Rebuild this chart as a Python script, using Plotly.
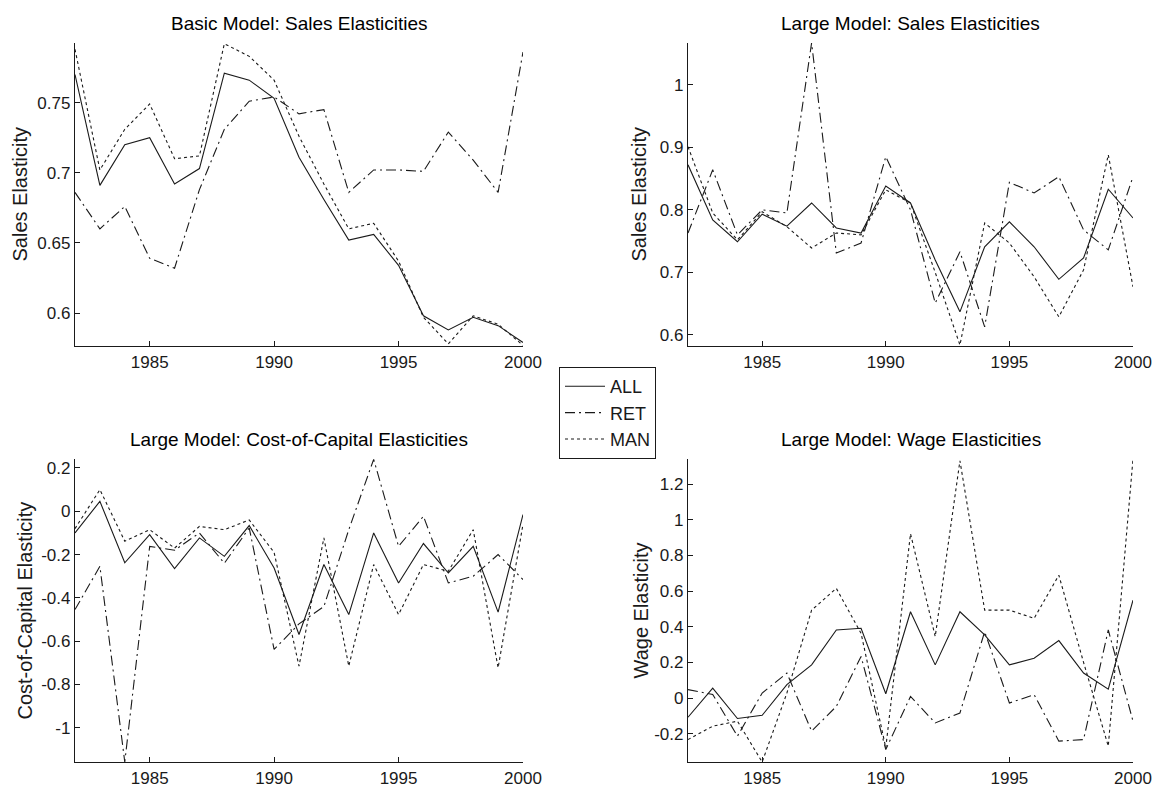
import plotly.graph_objects as go

years = list(range(1982, 2001))

basic_all = [0.770, 0.691, 0.720, 0.725, 0.692, 0.703, 0.771, 0.766, 0.753, 0.711,
             0.681, 0.652, 0.656, 0.634, 0.598, 0.588, 0.597, 0.591, 0.579]
basic_ret = [0.686, 0.660, 0.676, 0.639, 0.632, 0.688, 0.731, 0.751, 0.754, 0.742,
             0.745, 0.686, 0.702, 0.702, 0.701, 0.729, 0.709, 0.686, 0.786]
basic_man = [0.788, 0.702, 0.731, 0.749, 0.710, 0.712, 0.792, 0.783, 0.766, 0.726,
             0.692, 0.660, 0.664, 0.637, 0.597, 0.578, 0.598, 0.592, 0.577]

large_all = [0.872, 0.784, 0.749, 0.793, 0.774, 0.811, 0.771, 0.763, 0.838, 0.811,
             0.720, 0.637, 0.741, 0.781, 0.741, 0.689, 0.723, 0.833, 0.787]
large_ret = [0.763, 0.864, 0.760, 0.800, 0.795, 1.067, 0.731, 0.747, 0.885, 0.800,
             0.651, 0.733, 0.613, 0.844, 0.827, 0.853, 0.768, 0.736, 0.853]
large_man = [0.901, 0.795, 0.752, 0.797, 0.773, 0.739, 0.763, 0.760, 0.832, 0.811,
             0.700, 0.584, 0.779, 0.747, 0.693, 0.629, 0.704, 0.888, 0.677]

coc_all = [-0.100, 0.046, -0.238, -0.108, -0.265, -0.123, -0.208, -0.066, -0.262, -0.569,
           -0.246, -0.477, -0.100, -0.331, -0.149, -0.285, -0.162, -0.466, -0.015]
coc_ret = [-0.454, -0.254, -1.158, -0.162, -0.180, -0.100, -0.240, -0.077, -0.638, -0.520,
           -0.440, -0.085, 0.240, -0.162, -0.023, -0.331, -0.300, -0.200, -0.315]
coc_man = [-0.080, 0.100, -0.138, -0.085, -0.170, -0.070, -0.085, -0.040, -0.190, -0.715,
           -0.123, -0.715, -0.246, -0.477, -0.246, -0.277, -0.085, -0.723, -0.060]

wage_all = [-0.108, 0.056, -0.115, -0.097, 0.075, 0.186, 0.382, 0.391, 0.024, 0.484,
            0.186, 0.484, 0.354, 0.186, 0.223, 0.322, 0.140, 0.050, 0.549]
wage_ret = [0.047, 0.020, -0.214, 0.028, 0.140, -0.186, -0.047, 0.233, -0.289, 0.009,
            -0.140, -0.084, 0.372, -0.028, 0.019, -0.242, -0.233, 0.382, -0.130]
wage_man = [-0.233, -0.158, -0.130, -0.359, 0.028, 0.493, 0.615, 0.363, -0.279, 0.922,
            0.345, 1.331, 0.493, 0.493, 0.447, 0.689, 0.200, -0.270, 1.341]

series_names = ["ALL", "RET", "MAN"]
panel_titles = ["Basic Model: Sales Elasticities", "Large Model: Sales Elasticities",
                "Large Model: Cost-of-Capital Elasticities", "Large Model: Wage Elasticities"]
y_titles = ["Sales Elasticity", "Sales Elasticity", "Cost-of-Capital Elasticity", "Wage Elasticity"]
x_ticks = [1985, 1990, 1995, 2000]
y_ticks = [[0.6, 0.65, 0.7, 0.75],
           [0.6, 0.7, 0.8, 0.9, 1.0],
           [-1.0, -0.8, -0.6, -0.4, -0.2, 0.0, 0.2],
           [-0.2, 0.0, 0.2, 0.4, 0.6, 0.8, 1.0, 1.2]]
y_tick_text = [["0.6", "0.65", "0.7", "0.75"],
               ["0.6", "0.7", "0.8", "0.9", "1"],
               ["-1", "-0.8", "-0.6", "-0.4", "-0.2", "0", "0.2"],
               ["-0.2", "0", "0.2", "0.4", "0.6", "0.8", "1", "1.2"]]
panels = [(basic_all, basic_ret, basic_man), (large_all, large_ret, large_man),
          (coc_all, coc_ret, coc_man), (wage_all, wage_ret, wage_man)]

# styling
W, H = 1155, 791
FONT = "Liberation Sans, Arial, sans-serif"
INK = "#1a1a1a"
TICK_SIZE = 17
dashes = ["solid", "10px,4px,2px,4px", "3px,3px"]
y_ranges = [[0.5765, 0.7925], [0.5824, 1.0667], [-1.158, 0.2415], [-0.359, 1.341]]
# page-pixel boxes (left, right, top, bottom)
boxes = [(75, 523, 43, 346), (688, 1133, 43, 346), (75, 523, 459, 762), (688, 1133, 459, 762)]
ytitle_x = [19, 638, 24, 640]


def px(x):
    return x / W


def py(y):
    return 1 - y / H


fig = go.Figure()
layout = dict(
    width=W, height=H, margin=dict(l=0, r=0, t=0, b=0),
    paper_bgcolor="white", plot_bgcolor="white",
    font=dict(family=FONT, size=TICK_SIZE, color=INK),
    showlegend=True, hovermode=False,
    legend=dict(x=px(559), y=py(367), xanchor="left", yanchor="top",
                bordercolor=INK, borderwidth=1, bgcolor="white",
                font=dict(family=FONT, size=18, color=INK),
                tracegroupgap=0, itemwidth=40),
)
annotations = []
for i, (data, box) in enumerate(zip(panels, boxes)):
    k = "" if i == 0 else str(i + 1)
    l, r, t, b = box
    layout["xaxis" + k] = dict(
        domain=[px(l), px(r)], anchor="y" + k, range=[1982, 2000],
        tickvals=x_ticks, ticks="inside", ticklen=5, tickcolor=INK,
        showline=True, linecolor=INK, linewidth=1.3, showgrid=False, zeroline=False,
        tickfont=dict(family=FONT, size=TICK_SIZE, color=INK), automargin=False,
    )
    layout["yaxis" + k] = dict(
        domain=[py(b), py(t)], anchor="x" + k, range=y_ranges[i],
        tickvals=y_ticks[i], ticktext=y_tick_text[i], ticks="inside", ticklen=5,
        tickcolor=INK, showline=True, linecolor=INK, linewidth=1.3, showgrid=False,
        zeroline=False, tickfont=dict(family=FONT, size=TICK_SIZE, color=INK), automargin=False,
    )
    for j, (name, vals) in enumerate(zip(series_names, data)):
        fig.add_trace(go.Scatter(
            x=years, y=vals, mode="lines", name=name,
            line=dict(color=INK, width=1.1, dash=dashes[j]),
            xaxis="x" + k, yaxis="y" + k, showlegend=(i == 0),
        ))
    annotations.append(dict(
        text=panel_titles[i], x=px((l + r) / 2), y=py(t - 20),
        xref="paper", yref="paper", xanchor="center", yanchor="middle",
        showarrow=False, font=dict(family=FONT, size=19, color="#000"),
    ))
    annotations.append(dict(
        text=y_titles[i], x=px(ytitle_x[i]), y=py((t + b) / 2),
        xref="paper", yref="paper", xanchor="center", yanchor="middle",
        textangle=-90, showarrow=False, font=dict(family=FONT, size=20, color=INK),
    ))
layout["annotations"] = annotations
fig.update_layout(**layout)
fig.write_html("out.html", config={"displayModeBar": False},
               post_script="document.body.style.margin='0';document.body.style.overflow='hidden';")
